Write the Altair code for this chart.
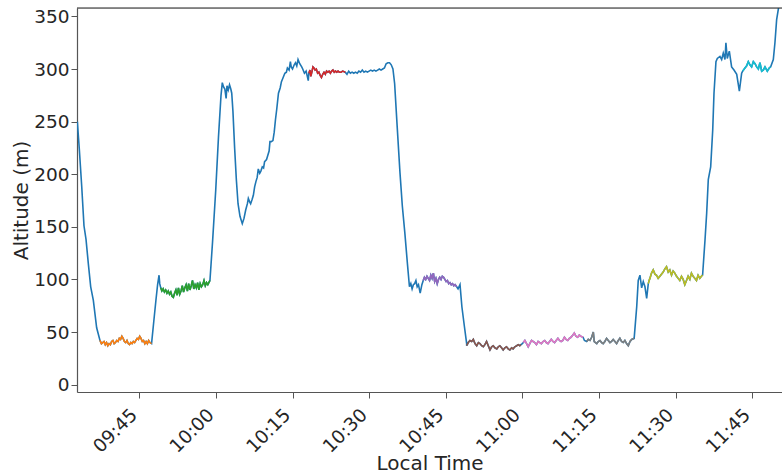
import altair as alt
import pandas as pd

# ---- data: (time, altitude m), split into pieces ----
blue_a_t = ["09:32:52", "09:33:15", "09:33:43", "09:34:10", "09:34:34", "09:35:01", "09:35:29", "09:36:00", "09:36:39", "09:37:18"]
blue_a_v = [250, 224, 189, 151, 138, 115, 93, 80, 54, 42]

orange_t = ["09:37:18", "09:37:35", "09:37:50", "09:38:05", "09:38:20", "09:38:35", "09:38:50", "09:39:05", "09:39:20", "09:39:35",
            "09:39:50", "09:40:05", "09:40:20", "09:40:35", "09:40:50", "09:41:05", "09:41:20", "09:41:35", "09:41:50", "09:42:05",
            "09:42:20", "09:42:35", "09:42:50", "09:43:05", "09:43:20", "09:43:35", "09:43:50", "09:44:05", "09:44:20", "09:44:35",
            "09:44:50", "09:45:05", "09:45:20", "09:45:35", "09:45:50", "09:46:05", "09:46:20", "09:46:35", "09:46:50", "09:47:05",
            "09:47:24"]
orange_v = [42, 39, 40, 41, 38, 40, 37, 39, 38, 41,
            42, 39, 40, 42, 41, 44, 43, 46, 44, 41,
            40, 42, 39, 38, 40, 39, 41, 40, 42, 44,
            43, 46, 44, 41, 42, 39, 41, 39, 42, 40,
            39]

blue_b_t = ["09:47:24", "09:47:50", "09:48:15", "09:48:35", "09:48:52", "09:49:00", "09:49:12"]
blue_b_v = [39, 60, 80, 95, 104, 96, 92]

green_t = ["09:49:12", "09:49:25", "09:49:40", "09:49:55", "09:50:10", "09:50:25", "09:50:40", "09:50:55", "09:51:10", "09:51:25",
           "09:51:40", "09:51:55", "09:52:10", "09:52:25", "09:52:40", "09:52:55", "09:53:10", "09:53:25", "09:53:40", "09:53:55",
           "09:54:10", "09:54:25", "09:54:40", "09:54:55", "09:55:10", "09:55:25", "09:55:40", "09:55:55", "09:56:10", "09:56:25",
           "09:56:40", "09:56:55", "09:57:10", "09:57:25", "09:57:40", "09:57:55", "09:58:10", "09:58:25", "09:58:50"]
green_v = [92, 89, 91, 88, 90, 87, 89, 86, 88, 84,
           83, 87, 90, 85, 92, 86, 89, 94, 88, 92,
           95, 89, 96, 90, 94, 99, 91, 95, 92, 97,
           90, 96, 93, 95, 99, 94, 97, 95, 99]

blue_c_t = ["09:58:50", "09:59:20", "09:59:58", "10:00:30", "10:01:00", "10:01:15", "10:01:30", "10:01:45", "10:02:00", "10:02:10",
            "10:02:25", "10:02:40", "10:02:55", "10:03:06", "10:03:20", "10:03:40", "10:04:00", "10:04:20", "10:04:43", "10:05:10",
            "10:05:30", "10:05:50", "10:06:10", "10:06:21", "10:06:35", "10:06:48", "10:07:05", "10:07:20", "10:07:35", "10:07:50",
            "10:08:05", "10:08:18", "10:08:35", "10:08:48", "10:09:05", "10:09:20", "10:09:32", "10:09:55", "10:10:10", "10:10:25",
            "10:10:35", "10:10:50", "10:11:10", "10:11:25", "10:11:40", "10:11:55", "10:12:15", "10:12:35", "10:12:50", "10:13:10",
            "10:13:30", "10:13:48", "10:14:00", "10:14:20", "10:14:35", "10:14:45", "10:15:00", "10:15:20", "10:15:35", "10:15:50",
            "10:16:05", "10:16:25", "10:16:48", "10:17:00", "10:17:20", "10:17:40", "10:18:05", "10:18:12"]
blue_c_v = [99, 135, 185, 235, 275, 287, 283, 281, 272, 284,
            280, 285, 281, 277, 260, 225, 195, 172, 160, 153,
            158, 166, 172, 177, 174, 172, 176, 180, 188, 193,
            197, 205, 201, 203, 207, 206, 212, 214, 218, 222,
            231, 231, 232, 240, 252, 262, 277, 282, 288, 292,
            296, 297, 301, 299, 307, 302, 300, 304, 306, 303,
            309, 305, 302, 300, 296, 298, 289, 296]

red_t = ["10:18:12", "10:18:25", "10:18:35", "10:18:50", "10:19:00", "10:19:12", "10:19:25", "10:19:40", "10:19:55", "10:20:10",
         "10:20:25", "10:20:40", "10:20:55", "10:21:10", "10:21:25", "10:21:40", "10:21:55", "10:22:10", "10:22:25", "10:22:40",
         "10:22:55", "10:23:10", "10:23:25", "10:23:40", "10:23:55", "10:24:10", "10:24:30", "10:24:50", "10:25:20"]
red_v = [296, 299, 293, 298, 302, 301, 299, 300, 296, 297,
         294, 292, 295, 297, 295, 298, 297, 298, 296, 298,
         299, 297, 298, 297, 298, 297, 297, 298, 297]

blue_d_t = ["10:25:20", "10:25:40", "10:26:00", "10:26:20", "10:26:40", "10:27:00", "10:27:20", "10:27:40", "10:28:00", "10:28:20",
            "10:28:40", "10:29:00", "10:29:20", "10:29:40", "10:30:00", "10:30:20", "10:30:40", "10:31:00", "10:31:20", "10:31:40",
            "10:32:00", "10:32:20", "10:32:40", "10:33:00", "10:33:20", "10:33:40", "10:34:00", "10:34:20", "10:34:40", "10:35:00",
            "10:35:30", "10:36:03", "10:36:30", "10:37:00", "10:37:30", "10:37:54", "10:38:10", "10:38:25", "10:38:40", "10:38:55",
            "10:39:10", "10:39:25", "10:39:40", "10:40:00", "10:40:20", "10:40:36"]
blue_d_v = [297, 295, 298, 296, 297, 296, 297, 296, 298, 297,
            299, 297, 298, 297, 298, 299, 298, 299, 298, 299,
            300, 299, 300, 301, 305, 306, 306, 304, 300, 286,
            245, 201, 170, 144, 115, 93, 96, 91, 95, 96,
            99, 93, 95, 87, 95, 99]

purple_t = ["10:40:36", "10:40:50", "10:41:05", "10:41:20", "10:41:35", "10:41:50", "10:42:05", "10:42:20", "10:42:35", "10:42:50",
            "10:43:05", "10:43:20", "10:43:35", "10:43:50", "10:44:05", "10:44:20", "10:44:35", "10:44:50", "10:45:05", "10:45:20",
            "10:45:35", "10:45:50", "10:46:05", "10:46:20", "10:46:35", "10:46:50", "10:47:09"]
purple_v = [99, 102, 100, 103, 101, 99, 104, 101, 106, 98,
            101, 96, 100, 102, 100, 103, 102, 100, 98, 99,
            96, 97, 95, 96, 94, 95, 93]

blue_e_t = ["10:47:09", "10:47:25", "10:47:48", "10:48:10", "10:48:40", "10:49:06"]
blue_e_v = [93, 91, 95, 74, 55, 39]

brown_t = ["10:49:06", "10:49:25", "10:49:45", "10:50:05", "10:50:24", "10:50:44", "10:51:04", "10:51:24", "10:51:42", "10:52:02",
           "10:52:22", "10:52:40", "10:53:00", "10:53:20", "10:53:40", "10:54:00", "10:54:18", "10:54:38", "10:55:00", "10:55:18",
           "10:55:36", "10:55:56", "10:56:15", "10:56:35", "10:56:54", "10:57:14", "10:57:34", "10:57:54", "10:58:12", "10:58:32",
           "10:58:54", "10:59:12", "10:59:30", "10:59:44"]
brown_v = [37, 40, 42, 41, 43, 39, 37, 40, 39, 37,
           36, 38, 41, 37, 33, 36, 37, 35, 34, 36,
           37, 35, 33, 35, 36, 34, 33, 35, 34, 36,
           37, 38, 37, 38]

blue_f_t = ["10:59:44", "11:00:00", "11:00:12"]
blue_f_v = [38, 39, 40]

pink_t = ["11:00:12", "11:00:30", "11:00:50", "11:01:09", "11:01:28", "11:01:48", "11:02:07", "11:02:26", "11:02:46", "11:03:06",
          "11:03:25", "11:03:44", "11:04:04", "11:04:23", "11:04:42", "11:05:02", "11:05:21", "11:05:40", "11:06:00", "11:06:19",
          "11:06:38", "11:06:58", "11:07:17", "11:07:36", "11:07:56", "11:08:15", "11:08:34", "11:08:54", "11:09:13", "11:09:32",
          "11:09:52", "11:10:11", "11:10:30", "11:10:50", "11:11:09", "11:11:28", "11:11:54"]
pink_v = [40, 42, 39, 36, 39, 42, 41, 40, 38, 41,
          40, 39, 41, 42, 40, 39, 41, 43, 41, 40,
          42, 44, 42, 41, 42, 45, 43, 42, 44, 45,
          47, 49, 46, 45, 47, 46, 45]

blue_g_t = ["11:11:54", "11:12:10", "11:12:36"]
blue_g_v = [45, 42, 41]

gray_t = ["11:12:36", "11:12:55", "11:13:15", "11:13:35", "11:13:54", "11:14:05", "11:14:20", "11:14:35", "11:14:52", "11:15:12",
          "11:15:32", "11:15:50", "11:16:10", "11:16:30", "11:16:50", "11:17:10", "11:17:28", "11:17:48", "11:18:08", "11:18:28",
          "11:18:48", "11:19:06", "11:19:26", "11:19:46", "11:20:05", "11:20:25", "11:20:45", "11:21:05", "11:21:25", "11:21:54"]
gray_v = [41, 43, 42, 45, 50, 41, 40, 39, 41, 42,
          40, 39, 41, 44, 42, 40, 41, 43, 41, 39,
          42, 44, 41, 40, 42, 39, 37, 41, 43, 44]

blue_h_t = ["11:21:54", "11:22:24", "11:22:42", "11:23:02", "11:23:22", "11:23:41", "11:24:01", "11:24:21", "11:24:40"]
blue_h_v = [44, 74, 99, 104, 92, 98, 93, 82, 96]

olive_t = ["11:24:40", "11:24:50", "11:24:59", "11:25:18", "11:25:38", "11:25:58", "11:26:17", "11:26:36", "11:26:56", "11:27:15",
           "11:27:35", "11:27:55", "11:28:14", "11:28:34", "11:28:53", "11:29:13", "11:29:32", "11:29:52", "11:30:12", "11:30:31",
           "11:30:50", "11:31:10", "11:31:30", "11:31:49", "11:32:09", "11:32:28", "11:32:48", "11:33:07", "11:33:27", "11:33:46",
           "11:34:06", "11:34:25", "11:34:45", "11:35:04", "11:35:18"]
olive_v = [96, 99, 101, 106, 109, 105, 104, 101, 103, 105,
           107, 110, 112, 107, 109, 104, 108, 106, 103, 101,
           99, 103, 100, 95, 99, 103, 100, 106, 103, 101,
           99, 104, 101, 103, 104]

blue_i_t = ["11:35:18", "11:35:46", "11:36:06", "11:36:25", "11:36:53", "11:37:17", "11:37:32", "11:37:55", "11:38:11", "11:38:42",
            "11:39:02", "11:39:21", "11:39:41", "11:39:52", "11:40:08", "11:40:32", "11:40:59", "11:41:27", "11:41:59", "11:42:30",
            "11:42:57", "11:43:09"]
blue_i_v = [104, 137, 163, 195, 207, 242, 277, 307, 310, 312,
            309, 315, 309, 325, 310, 317, 302, 299, 295, 279,
            296, 298]

cyan_t = ["11:43:09", "11:43:36", "11:43:56", "11:44:15", "11:44:34", "11:44:54", "11:45:14", "11:45:34", "11:45:53", "11:46:13",
          "11:46:32", "11:46:52", "11:47:11", "11:47:31", "11:47:58", "11:48:21", "11:48:37"]
cyan_v = [298, 301, 303, 307, 304, 302, 307, 305, 302, 300,
          306, 298, 299, 302, 298, 301, 302]

blue_j_t = ["11:48:37", "11:49:09", "11:49:28", "11:49:48", "11:50:10"]
blue_j_v = [302, 309, 325, 347, 358]

pieces = [
    ("blue", blue_a_t, blue_a_v), ("orange", orange_t, orange_v), ("blue", blue_b_t, blue_b_v),
    ("green", green_t, green_v), ("blue", blue_c_t, blue_c_v), ("red", red_t, red_v),
    ("blue", blue_d_t, blue_d_v), ("purple", purple_t, purple_v), ("blue", blue_e_t, blue_e_v),
    ("brown", brown_t, brown_v), ("blue", blue_f_t, blue_f_v), ("pink", pink_t, pink_v),
    ("blue", blue_g_t, blue_g_v), ("gray", gray_t, gray_v), ("blue", blue_h_t, blue_h_v),
    ("olive", olive_t, olive_v), ("blue", blue_i_t, blue_i_v), ("cyan", cyan_t, cyan_v),
    ("blue", blue_j_t, blue_j_v),
]

seg_names = ["orange", "green", "red", "purple", "brown", "pink", "gray", "olive", "cyan"]
seg_colors = ["#ff7f0e", "#2ca02c", "#d62728", "#9467bd", "#8c564b", "#e377c2", "#7f7f7f", "#bcbd22", "#17becf"]

tick_labels = ["09:45", "10:00", "10:15", "10:30", "10:45", "11:00", "11:15", "11:30", "11:45"]
y_ticks = [0, 50, 100, 150, 200, 250, 300, 350]

# ---- build tables ----
all_rows, seg_rows = [], []
order = 0
for name, ts, vs in pieces:
    for t, v in zip(ts, vs):
        stamp = "2000-01-01T" + t
        all_rows.append({"time": stamp, "alt": v, "order": order})
        order += 1
        if name != "blue":
            seg_rows.append({"time": stamp, "alt": v, "seg": name, "order": order})
full_df = pd.DataFrame(all_rows)
seg_df = pd.DataFrame(seg_rows)

def dt(label):
    h, m = label.split(":")[:2]
    s = int(label.split(":")[2]) if label.count(":") == 2 else 0
    return alt.DateTime(year=2000, month=1, date=1, hours=int(h), minutes=int(m), seconds=s)

FONT = "DejaVu Sans"
W, H = 705, 384

x_scale = alt.Scale(domain=[dt("09:32:48"), dt("11:50:51")], nice=False)
y_scale = alt.Scale(domain=[-7, 358], nice=False, zero=False)

x_axis = alt.Axis(values=[dt(l) for l in tick_labels], format="%H:%M", title="Local Time",
                  labelAngle=315, labelAlign="right", labelBaseline="top", labelFontSize=18.5,
                  labelFont=FONT, labelColor="#262626", labelPadding=7, labelOffset=-12, tickSize=6,
                  tickColor="#555555", domainColor="#555555", domainWidth=1.2, grid=False,
                  titleFont=FONT, titleFontSize=20, titleFontWeight="normal", titleColor="#262626",
                  titleX=W / 2, titleY=77, titleBaseline="alphabetic", titleAlign="center")
y_axis = alt.Axis(values=y_ticks, title="Altitude (m)", labelFontSize=18.5, labelFont=FONT,
                  labelColor="#262626", labelPadding=2, tickSize=6, tickColor="#555555",
                  domainColor="#555555", domainWidth=1.2, grid=False,
                  titleFont=FONT, titleFontSize=20, titleFontWeight="normal", titleColor="#262626",
                  titleAngle=270, titleX=-50, titleY=H / 2, titleBaseline="alphabetic", titleAlign="center")

base_line = alt.Chart(full_df).mark_line(color="#1f77b4", strokeWidth=1.6, clip=True).encode(
    x=alt.X("time:T", scale=x_scale, axis=x_axis),
    y=alt.Y("alt:Q", scale=y_scale, axis=y_axis),
    order="order:Q",
)

seg_line = alt.Chart(seg_df).mark_line(strokeWidth=1.6, clip=True).encode(
    x=alt.X("time:T", scale=x_scale),
    y=alt.Y("alt:Q", scale=y_scale),
    color=alt.Color("seg:N", scale=alt.Scale(domain=seg_names, range=seg_colors), legend=None),
    detail="seg:N",
    order="order:Q",
)

top_spine = alt.Chart(pd.DataFrame({"k": [0]})).mark_rule(color="#222222", strokeWidth=1.2).encode(
    x=alt.value(0), x2=alt.value(W + 5), y=alt.value(0)
)

chart = alt.layer(base_line, seg_line, top_spine).properties(
    width=W, height=H,
    autosize=alt.AutoSizeParams(type="none"),
    padding={"left": 77, "top": 8, "right": 0, "bottom": 84},
).configure_view(stroke=None).configure(background="white")

chart.save("out.html", embed_options={"renderer": "svg", "actions": False})
